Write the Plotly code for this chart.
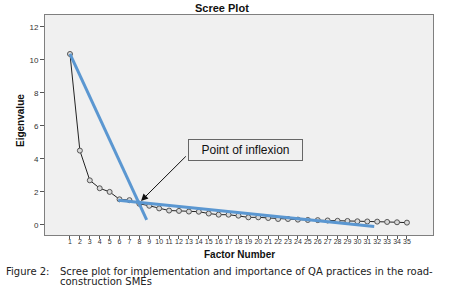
import plotly.graph_objects as go

factors = list(range(1, 36))
eigenvalues = [10.35, 4.5, 2.7, 2.22, 2.0, 1.55, 1.5, 1.28, 1.16, 1.0,
               0.87, 0.85, 0.81, 0.8, 0.69, 0.62, 0.62, 0.56, 0.46, 0.46,
               0.42, 0.36, 0.36, 0.32, 0.3, 0.29, 0.27, 0.25, 0.24, 0.22,
               0.21, 0.2, 0.18, 0.16, 0.14]
steep_x = [1, 8.74]
steep_y = [10.35, 0.3]
flat_x = [5.87, 31.7]
flat_y = [1.5, -0.1]
y_ticks = [0, 2, 4, 6, 8, 10, 12]

W, H = 456, 299
L, R, T, B = 45, 23, 15, 64
PW, PH = W - L - R, H - T - B


def px(x):
    return (x - L) / PW


def py(y):
    return (H - B - y) / PH


fig = go.Figure()
fig.add_trace(go.Scatter(x=factors, y=eigenvalues, mode="lines+markers",
                         line=dict(color="#222222", width=1),
                         marker=dict(symbol="circle", size=5, color="#d8d8d8",
                                     line=dict(color="#555555", width=1)),
                         showlegend=False))
fig.add_trace(go.Scatter(x=steep_x, y=steep_y, mode="lines",
                         line=dict(color="#5b97d1", width=3), showlegend=False))
fig.add_trace(go.Scatter(x=flat_x, y=flat_y, mode="lines",
                         line=dict(color="#5b97d1", width=3), showlegend=False))

fig.update_layout(
    width=W, height=H,
    margin=dict(l=L, r=R, t=T, b=B, autoexpand=False),
    paper_bgcolor="white", plot_bgcolor="#f0f0f0",
    font=dict(family="Liberation Sans, Arial", color="#333333"),
    xaxis=dict(range=[-1.52, 37.63], tickmode="array", tickvals=factors,
               ticktext=[str(f) for f in factors], ticks="outside", ticklen=3,
               tickcolor="#555555", tickfont=dict(size=7, color="#333333"),
               ticklabelstandoff=-3,
               showgrid=False, zeroline=False, showline=True, linecolor="#7f7f7f",
               linewidth=1, mirror=True, automargin=False),
    yaxis=dict(range=[-0.61, 12.71], tickmode="array", tickvals=y_ticks,
               ticks="outside", ticklen=4, tickcolor="#555555",
               tickfont=dict(size=8, color="#333333"),
               showgrid=False, zeroline=False, showline=True, linecolor="#7f7f7f",
               linewidth=1, mirror=True, automargin=False),
)

# Title and axis titles
fig.add_annotation(x=px(221.5), y=py(8), xref="paper", yref="paper",
                   xanchor="center", yanchor="middle", showarrow=False,
                   text="<b>Scree Plot</b>", font=dict(size=11, color="#111111"))
fig.add_annotation(x=px(239), y=py(255), xref="paper", yref="paper",
                   xanchor="center", yanchor="middle", showarrow=False,
                   text="<b>Factor Number</b>", font=dict(size=10, color="#111111"))
fig.add_annotation(x=px(20), y=py(121), xref="paper", yref="paper",
                   xanchor="center", yanchor="middle", showarrow=False, textangle=-90,
                   text="<b>Eigenvalue</b>", font=dict(size=10, color="#111111"))

# Arrow (no text)
fig.add_annotation(x=8.17, y=1.45, ax=12.84, ay=4.24, axref="x", ayref="y",
                   xref="x", yref="y", text="", showarrow=True,
                   arrowhead=2, arrowsize=1.4, arrowwidth=1, arrowcolor="#111111")
# Label box
fig.add_annotation(x=18.7, y=4.55, xref="x", yref="y", text="Point of inflexion",
                   showarrow=False, width=111, height=18, bordercolor="#666666",
                   borderwidth=1, borderpad=1, bgcolor="rgba(0,0,0,0)",
                   font=dict(size=12, color="#111111", family="Liberation Sans, Arial"))

# Caption
cap_font = dict(size=10, color="#222222", family="DejaVu Sans")
fig.add_annotation(x=px(4), y=py(271), xref="paper", yref="paper",
                   xanchor="left", yanchor="middle", showarrow=False,
                   text="Figure 2:", font=cap_font)
fig.add_annotation(x=px(58), y=py(271), xref="paper", yref="paper",
                   xanchor="left", yanchor="middle", showarrow=False,
                   text="Scree plot for implementation and importance of QA practices in the road-",
                   font=cap_font)
fig.add_annotation(x=px(58), y=py(281), xref="paper", yref="paper",
                   xanchor="left", yanchor="middle", showarrow=False,
                   text="construction SMEs", font=cap_font)

fig.write_html("out.html", config={"displayModeBar": False},
               post_script="document.body.style.margin='0';document.body.style.padding='0';")
